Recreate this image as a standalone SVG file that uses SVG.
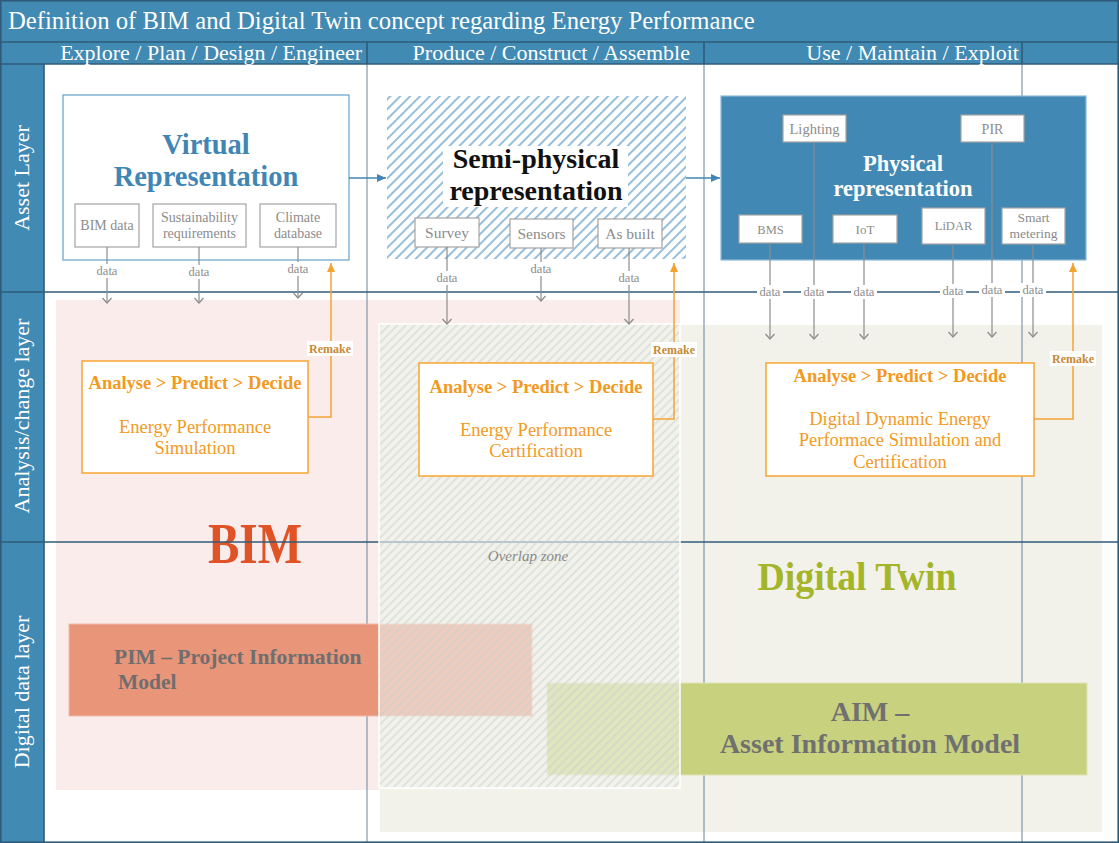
<svg xmlns="http://www.w3.org/2000/svg" width="1119" height="843" viewBox="0 0 1119 843">
<style>
text{font-family:"Liberation Serif","Times New Roman",serif}
.hdr{fill:#ffffff}
.sub{fill:#ffffff;stroke:#a3a3a3;stroke-width:1.2}
.subt{fill:#8c8c8c;text-anchor:middle}
.dl{fill:#ffffff}
.dt{fill:#8c8c8c;font-size:12.5px;text-anchor:middle}
.darr{stroke:#8c8c8c;stroke-width:1.2;fill:none;marker-end:url(#chev)}
.orng{stroke:#f5a233;stroke-width:1.5;fill:none;marker-end:url(#oarr)}
.abox{fill:#ffffff;stroke:#f7a530;stroke-width:1.5}
.ah{fill:#f39a1e;font-weight:bold;font-size:18.5px;text-anchor:middle}
.at{fill:#f39a1e;font-size:18.5px;text-anchor:middle}
.rm{fill:#c68a36;font-weight:bold;font-size:12px;text-anchor:middle}
.grid{stroke:#7f98a9;stroke-width:1.2}
.frame{stroke:#2f5b7a;stroke-width:1.6}
</style>
<defs>
<marker id="chev" viewBox="0 0 10 10" refX="8" refY="5" markerWidth="10" markerHeight="10" markerUnits="userSpaceOnUse" orient="auto"><path d="M3,0.5 L8,5 L3,9.5" fill="none" stroke="#8c8c8c" stroke-width="1.2"/></marker>
<marker id="barr" viewBox="0 0 10 10" refX="9" refY="5" markerWidth="10" markerHeight="10" markerUnits="userSpaceOnUse" orient="auto"><path d="M0,1 L9,5 L0,9 z" fill="#3f86b5"/></marker>
<marker id="oarr" viewBox="0 0 10 10" refX="9" refY="5" markerWidth="10" markerHeight="10" markerUnits="userSpaceOnUse" orient="auto"><path d="M0,1 L9,5 L0,9 z" fill="#f5a233"/></marker>
<pattern id="hatchBlue" width="7" height="7" patternUnits="userSpaceOnUse" patternTransform="rotate(45)"><line x1="1" y1="0" x2="1" y2="7" stroke="#6aa3cb" stroke-width="1.4"/></pattern>
<pattern id="hatchGray" width="6" height="6" patternUnits="userSpaceOnUse" patternTransform="rotate(45)"><line x1="1" y1="0" x2="1" y2="6" stroke="#c3cfd2" stroke-width="0.9"/></pattern>
</defs>

<rect x="0" y="0" width="1119" height="843" fill="#ffffff"/>

<g id="backgrounds">
<rect x="56" y="300" width="624" height="490" fill="#f9ecea"/>
<rect x="380" y="325" width="722" height="507" fill="#f2f2eb"/>
</g>

<g id="bim-label"><text x="255" y="563" font-size="56" font-weight="bold" fill="#e05327" text-anchor="middle" textLength="94" lengthAdjust="spacingAndGlyphs">BIM</text></g>

<g id="grid">
<line class="grid" x1="367" y1="64" x2="367" y2="843"/>
<line class="grid" x1="704" y1="64" x2="704" y2="843"/>
<line class="grid" x1="1022" y1="64" x2="1022" y2="843"/>
<line class="frame" x1="44" y1="292" x2="1119" y2="292"/>
<line class="frame" x1="44" y1="542" x2="1119" y2="542"/>
</g>

<g id="pim"><rect x="69" y="624" width="463" height="92" fill="#e8957a" stroke="#f2b9a6" stroke-width="1"/></g>
<g id="aim"><rect x="547" y="683" width="540" height="92" fill="#c8d17e" stroke="#dfe4b8" stroke-width="1"/></g>

<g id="overlap-zone">
<rect x="379" y="324" width="301" height="464" fill="#f2f1ea" fill-opacity="0.6"/>
<rect x="379" y="324" width="301" height="464" fill="url(#hatchGray)" stroke="#ffffff" stroke-width="1.5"/>
<text x="528" y="561" font-size="15" font-style="italic" fill="#8a8a8a" text-anchor="middle">Overlap zone</text>
</g>

<g id="dt-label"><text x="857" y="590" font-size="40" font-weight="bold" fill="#a5b52a" text-anchor="middle" textLength="199" lengthAdjust="spacingAndGlyphs">Digital Twin</text></g>

<g id="pim-text" fill="#6e6e6e" font-weight="bold" font-size="21.5">
<text x="114" y="664">PIM – Project Information</text>
<text x="118" y="689">Model</text>
</g>
<g id="aim-text" fill="#707070" font-weight="bold" font-size="28" text-anchor="middle">
<text x="870" y="721">AIM –</text>
<text x="870" y="753">Asset Information Model</text>
</g>

<g id="frame">
<rect x="0" y="0" width="1119" height="64" fill="#418ab3"/>
<rect x="0" y="64" width="44" height="779" fill="#418ab3"/>
<line class="frame" x1="0" y1="42" x2="1119" y2="42"/>
<line class="frame" x1="0" y1="64" x2="1119" y2="64"/>
<line class="frame" x1="44" y1="64" x2="44" y2="843"/>
<line class="frame" x1="0" y1="292" x2="44" y2="292"/>
<line class="frame" x1="0" y1="542" x2="44" y2="542"/>
<line class="frame" x1="367" y1="42" x2="367" y2="64"/>
<line class="frame" x1="704" y1="42" x2="704" y2="64"/>
<line class="frame" x1="1022" y1="42" x2="1022" y2="64"/>
<rect x="0.8" y="0.8" width="1117.4" height="841.4" fill="none" stroke="#2f5b7a" stroke-width="1.6"/>
<text class="hdr" x="8" y="29" font-size="24.7">Definition of BIM and Digital Twin concept regarding Energy Performance</text>
<text class="hdr" x="362" y="60" font-size="22" text-anchor="end">Explore / Plan / Design / Engineer</text>
<text class="hdr" x="690" y="60" font-size="22" text-anchor="end">Produce / Construct / Assemble</text>
<text class="hdr" x="1019" y="60" font-size="22" text-anchor="end">Use / Maintain / Exploit</text>
<text class="hdr" font-size="22" text-anchor="middle" transform="translate(29,178) rotate(-90)">Asset Layer</text>
<text class="hdr" font-size="22" text-anchor="middle" transform="translate(29,416) rotate(-90)">Analysis/change layer</text>
<text class="hdr" font-size="22" text-anchor="middle" transform="translate(29,692) rotate(-90)">Digital data layer</text>
</g>

<g id="virtual">
<rect x="63" y="95" width="286" height="165" fill="#ffffff" stroke="#6fa8cc" stroke-width="1.3"/>
<text x="206" y="154" font-size="28.5" font-weight="bold" fill="#3f86b5" text-anchor="middle">Virtual</text>
<text x="206" y="186" font-size="28.5" font-weight="bold" fill="#3f86b5" text-anchor="middle">Representation</text>
</g>
<g id="bim-data"><rect class="sub" x="75" y="204" width="64" height="43"/><text class="subt" x="107" y="230" font-size="14">BIM data</text></g>
<g id="sustainability"><rect class="sub" x="153" y="204" width="93" height="43"/><text class="subt" x="199.5" y="222" font-size="14">Sustainability</text><text class="subt" x="199.5" y="238" font-size="14">requirements</text></g>
<g id="climate"><rect class="sub" x="260" y="204" width="76" height="43"/><text class="subt" x="298" y="222" font-size="14">Climate</text><text class="subt" x="298" y="238" font-size="14">database</text></g>

<g id="semi-physical">
<rect x="387" y="96" width="299" height="163" fill="#ffffff"/>
<rect x="387" y="96" width="299" height="163" fill="url(#hatchBlue)"/>
<rect x="443" y="146" width="185" height="61" fill="#ffffff"/>
<text x="536" y="168" font-size="28" font-weight="bold" fill="#111111" text-anchor="middle">Semi-physical</text>
<text x="536" y="200" font-size="28" font-weight="bold" fill="#111111" text-anchor="middle">representation</text>
</g>
<g id="survey"><rect class="sub" x="415" y="218" width="64" height="29"/><text class="subt" x="447" y="238" font-size="15.5">Survey</text></g>
<g id="sensors"><rect class="sub" x="510" y="219" width="63" height="29"/><text class="subt" x="541.5" y="239" font-size="15.5">Sensors</text></g>
<g id="as-built"><rect class="sub" x="598" y="219" width="64" height="29"/><text class="subt" x="630" y="239" font-size="15.5">As built</text></g>

<g id="physical">
<rect x="721" y="96" width="365" height="164" fill="#4189b4" stroke="#8fbad6" stroke-width="1.2"/>
<text x="903" y="171" font-size="22.5" font-weight="bold" fill="#ffffff" text-anchor="middle">Physical</text>
<text x="903" y="196" font-size="22.5" font-weight="bold" fill="#ffffff" text-anchor="middle">representation</text>
</g>
<g id="lighting"><rect class="sub" x="783" y="115" width="63" height="27"/><text class="subt" x="814.5" y="134" font-size="14.5">Lighting</text></g>
<g id="pir"><rect class="sub" x="961" y="115" width="63" height="27"/><text class="subt" x="992.5" y="134" font-size="14">PIR</text></g>
<g id="bms"><rect class="sub" x="739" y="215" width="63" height="28"/><text class="subt" x="770.5" y="234" font-size="12.5">BMS</text></g>
<g id="iot"><rect class="sub" x="833" y="215" width="64" height="28"/><text class="subt" x="865" y="234" font-size="13">IoT</text></g>
<g id="lidar"><rect class="sub" x="922" y="208" width="63" height="36"/><text class="subt" x="953.5" y="230" font-size="12.5">LiDAR</text></g>
<g id="smart-metering"><rect class="sub" x="1002" y="208" width="63" height="36"/><text class="subt" x="1033.5" y="222" font-size="13.5">Smart</text><text class="subt" x="1033.5" y="238" font-size="13.5">metering</text></g>

<g id="analysis-simulation">
<rect class="abox" x="82" y="361" width="226" height="112"/>
<text class="ah" x="195" y="389">Analyse &gt; Predict &gt; Decide</text>
<text class="at" x="195" y="433">Energy Performance</text>
<text class="at" x="195" y="454">Simulation</text>
</g>
<g id="analysis-certification">
<rect class="abox" x="419" y="363" width="234" height="113"/>
<text class="ah" x="536" y="393">Analyse &gt; Predict &gt; Decide</text>
<text class="at" x="536" y="436">Energy Performance</text>
<text class="at" x="536" y="457">Certification</text>
</g>
<g id="analysis-digital">
<rect class="abox" x="766" y="363" width="268" height="113"/>
<text class="ah" x="900" y="382">Analyse &gt; Predict &gt; Decide</text>
<text class="at" x="900" y="425">Digital Dynamic Energy</text>
<text class="at" x="900" y="446">Performace Simulation and</text>
<text class="at" x="900" y="468">Certification</text>
</g>

<g id="connectors">
<line x1="349" y1="178" x2="386" y2="178" stroke="#3f86b5" stroke-width="1.4" marker-end="url(#barr)"/>
<line x1="686" y1="178" x2="720" y2="178" stroke="#3f86b5" stroke-width="1.4" marker-end="url(#barr)"/>
<line class="darr" x1="107" y1="247" x2="107" y2="303"/>
<line class="darr" x1="199" y1="247" x2="199" y2="303"/>
<line class="darr" x1="298" y1="247" x2="298" y2="298"/>
<line class="darr" x1="447" y1="247" x2="447" y2="324"/>
<line class="darr" x1="541" y1="248" x2="541" y2="301"/>
<line class="darr" x1="629" y1="248" x2="629" y2="324"/>
<line class="darr" x1="770" y1="243" x2="770" y2="339"/>
<line class="darr" x1="814" y1="142" x2="814" y2="339"/>
<line class="darr" x1="864" y1="243" x2="864" y2="339"/>
<line class="darr" x1="953" y1="244" x2="953" y2="337"/>
<line class="darr" x1="992" y1="142" x2="992" y2="337"/>
<line class="darr" x1="1033" y1="244" x2="1033" y2="337"/>
<path class="orng" d="M308,417 H331 V263"/>
<path class="orng" d="M653,419 H674 V263"/>
<path class="orng" d="M1034,419 H1073 V263"/>
<rect class="dl" x="94" y="264" width="26" height="14"/><text class="dt" x="107" y="275">data</text>
<rect class="dl" x="186" y="265" width="26" height="14"/><text class="dt" x="199" y="276">data</text>
<rect class="dl" x="285" y="262" width="26" height="14"/><text class="dt" x="298" y="273">data</text>
<rect class="dl" x="434" y="271" width="26" height="14"/><text class="dt" x="447" y="282">data</text>
<rect class="dl" x="528" y="262" width="26" height="14"/><text class="dt" x="541" y="273">data</text>
<rect class="dl" x="616" y="271" width="26" height="14"/><text class="dt" x="629" y="282">data</text>
<rect class="dl" x="757" y="285" width="26" height="14"/><text class="dt" x="770" y="296">data</text>
<rect class="dl" x="801" y="285" width="26" height="14"/><text class="dt" x="814" y="296">data</text>
<rect class="dl" x="851" y="285" width="26" height="14"/><text class="dt" x="864" y="296">data</text>
<rect class="dl" x="940" y="284" width="26" height="14"/><text class="dt" x="953" y="295">data</text>
<rect class="dl" x="979" y="283" width="26" height="14"/><text class="dt" x="992" y="294">data</text>
<rect class="dl" x="1020" y="283" width="26" height="14"/><text class="dt" x="1033" y="294">data</text>
<rect class="dl" x="307" y="341" width="46" height="15"/><text class="rm" x="330" y="353">Remake</text>
<rect class="dl" x="651" y="342" width="46" height="15"/><text class="rm" x="674" y="354">Remake</text>
<rect class="dl" x="1050" y="351" width="46" height="15"/><text class="rm" x="1073" y="363">Remake</text>
</g>
</svg>
